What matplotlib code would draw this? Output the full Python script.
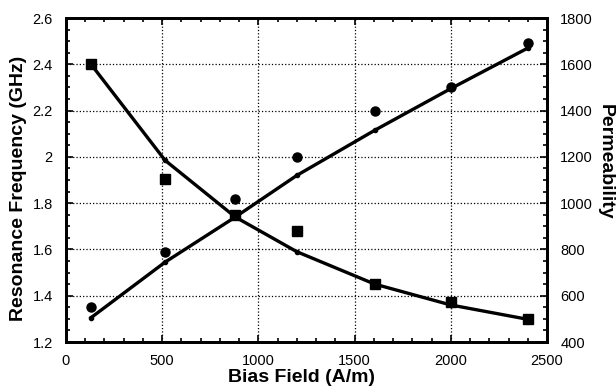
import numpy as np
import matplotlib.pyplot as plt
from matplotlib.ticker import MultipleLocator

plt.rcParams['font.family'] = ['Liberation Sans', 'DejaVu Sans']

# datos medidos
field = np.array([130, 515, 880, 1200, 1605, 2000, 2400])
freq = np.array([1.35, 1.59, 1.82, 2.0, 2.2, 2.30, 2.49])
perm = np.array([1600, 1105, 950, 880, 650, 575, 498])

# curvas de ajuste
freq_fit = np.array([1.305, 1.545, 1.74, 1.92, 2.115, 2.295, 2.47])
perm_fit = np.array([1600, 1185, 940, 790, 650, 560, 498])

freq_ticks = [1.2, 1.4, 1.6, 1.8, 2.0, 2.2, 2.4, 2.6]
freq_labels = ['1.2', '1.4', '1.6', '1.8', '2', '2.2', '2.4', '2.6']

fig = plt.figure(figsize=(6.16, 3.88), dpi=100)
ax = fig.add_axes([66/616, 1-342/388, 481/616, 324/388])
ax2 = ax.twinx()

ax.plot(field, freq_fit, color='black', lw=2.4, marker='o', ms=3, zorder=3)
ax.plot(field, freq, 'o', color='black', ms=6.5, zorder=4)
ax2.plot(field, perm_fit, color='black', lw=2.4, marker='o', ms=3, zorder=3)
ax2.plot(field, perm, 's', color='black', ms=6.5, zorder=4)

ax.set_xlim(0, 2500)
ax.set_ylim(1.2, 2.6)
ax2.set_ylim(400, 1800)

ax.xaxis.set_major_locator(MultipleLocator(500))
ax.xaxis.set_minor_locator(MultipleLocator(100))
ax.set_yticks(freq_ticks, freq_labels)
ax.yaxis.set_minor_locator(MultipleLocator(0.05))
ax2.yaxis.set_major_locator(MultipleLocator(200))
ax2.yaxis.set_minor_locator(MultipleLocator(50))

ax.grid(True, which='major', ls=':', color='black', lw=0.9)
ax.tick_params(which='both', direction='in', top=True, labelsize=10.5, width=1.2, pad=9.5)
ax.tick_params(which='major', length=5)
ax.tick_params(which='minor', length=3)
ax2.tick_params(which='both', direction='in', labelsize=10.5, width=1.2, pad=9.5)
ax2.tick_params(which='major', length=5)
ax2.tick_params(which='minor', length=3)
ax.tick_params(axis='x', pad=8.5)

for a in (ax, ax2):
    for s in a.spines.values():
        s.set_linewidth(2)

ax.set_xlabel('Bias Field (A/m)', fontsize=14, fontweight='bold')
ax.xaxis.set_label_coords(0.49, -0.083)
ax.set_ylabel('Resonance Frequency (GHz)', fontsize=14, fontweight='bold')
ax.yaxis.set_label_coords(-0.081, 0.475)
ax2.set_ylabel('Permeability', fontsize=14, fontweight='bold', rotation=270, va='bottom')
ax2.yaxis.set_label_coords(1.104, 0.556)

fig.savefig('out.png', dpi=100)
